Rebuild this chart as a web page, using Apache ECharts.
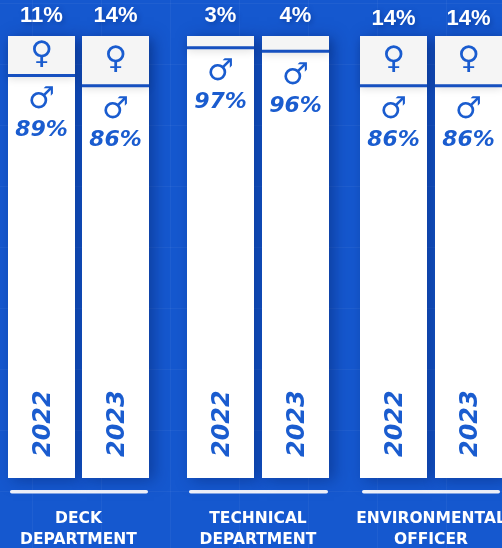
<!DOCTYPE html>
<html><head><meta charset="utf-8">
<script src="https://cdn.jsdelivr.net/npm/echarts@6/dist/echarts.min.js"></script>
<style>
html,body{margin:0;padding:0;width:502px;height:548px;overflow:hidden;background-color:#1558cf;
background-image:linear-gradient(rgba(255,255,255,.045) 1px,transparent 1px),linear-gradient(90deg,rgba(255,255,255,.045) 1px,transparent 1px);
background-size:69px 61px;background-position:32px 3px;}
#c{width:502px;height:548px}
</style></head><body><div id="c"></div>
<script>
const departments = ['DECK\nDEPARTMENT', 'TECHNICAL\nDEPARTMENT', 'ENVIRONMENTAL\nOFFICER'];
const years = ['2022', '2023'];
const femaleShare = [[11, 14], [3, 4], [14, 14]];
const maleShare = [[89, 86], [97, 96], [86, 86]];
const yearPanel = 28; // blank white part of each column that holds the year

const gridLeft = [4.5, 183, 356];
const gridWidth = [148, 150, 150];
const ruleX = [[10, 148], [189, 328], [362, 500]];
const topLabelGap = [9, 9, 6];

const blue = '#1a5ccf';
const face = '"DejaVu Sans"';
const axisMax = 100 + yearPanel;

const grids = [], xAxes = [], yAxes = [], series = [];
departments.forEach((dep, d) => {
  grids.push({left: gridLeft[d], width: gridWidth[d], top: 36, bottom: 70, outerBoundsMode: 'none', containLabel: false});
  xAxes.push({type: 'category', gridIndex: d, data: years,
    axisLine: {show: false}, axisTick: {show: false}, axisLabel: {show: false},
    name: dep, nameLocation: 'middle', nameGap: 30,
    nameTextStyle: {color: '#fff', fontFamily: face, fontWeight: 'bold', fontSize: 15.5, lineHeight: 21}});
  yAxes.push({type: 'value', gridIndex: d, min: 0, max: axisMax, show: false, splitLine: {show: false}});
  const common = {type: 'bar', stack: 'd' + d, xAxisIndex: d, yAxisIndex: d, barWidth: 67};
  series.push({...common, name: 'year', data: years.map(() => yearPanel),
    itemStyle: {color: '#fff'},
    showBackground: true,
    backgroundStyle: {color: '#fff', shadowColor: 'rgba(5,35,110,.5)', shadowBlur: 14, shadowOffsetX: 5, shadowOffsetY: 2},
    label: {show: true, position: 'inside', offset: [6, 2], rotate: 90, color: blue,
      fontFamily: face, fontWeight: 'bold', fontStyle: 'italic', fontSize: 24,
      formatter: p => p.name}});
  series.push({...common, name: 'male', data: maleShare[d],
    itemStyle: {color: '#fff'},
    label: {show: true, position: 'insideTop', distance: 10, color: blue,
      formatter: p => '{s|\u2642}\n{p|' + p.value + '%}',
      rich: {s: {fontFamily: face, fontWeight: 'bold', fontSize: 30, lineHeight: 32, color: blue, align: 'center'},
             p: {fontFamily: face, fontWeight: 'bold', fontStyle: 'italic', fontSize: 22, lineHeight: 28, color: blue, align: 'center'}}}});
  series.push({...common, name: 'female', data: femaleShare[d],
    itemStyle: {color: '#f5f5f5', shadowColor: 'rgba(0,0,0,.12)', shadowBlur: 8, shadowOffsetY: 5},
    label: {show: true, position: 'inside', color: blue, fontFamily: face, fontWeight: 'bold', fontSize: 31,
      formatter: p => p.value > 8 ? '\u2640' : ''}});
  series.push({type: 'scatter', xAxisIndex: d, yAxisIndex: d, z: 5, silent: true,
    symbol: 'rect', symbolSize: [67, 3], symbolOffset: [0, 1.5],
    data: maleShare[d].map((m, i) => [i, yearPanel + m]),
    itemStyle: {color: '#1650c0', opacity: 1}});
  series.push({type: 'scatter', xAxisIndex: d, yAxisIndex: d, z: 5, silent: true,
    symbolSize: 0,
    data: femaleShare[d].map((f, i) => ({value: [i, axisMax], share: f})),
    itemStyle: {opacity: 1},
    label: {show: true, position: 'top', distance: topLabelGap[d], color: '#fff', opacity: 1,
      fontFamily: '"Liberation Sans"', fontWeight: 'bold', fontSize: 22,
      textShadowColor: 'rgba(5,35,110,.4)', textShadowBlur: 5, textShadowOffsetX: 2, textShadowOffsetY: 2,
      formatter: p => p.data.share + '%'}});
});

const chart = echarts.init(document.getElementById('c'), null, {renderer: 'canvas'});
chart.setOption({
  animation: false,
  backgroundColor: 'transparent',
  grid: grids, xAxis: xAxes, yAxis: yAxes, series,
  graphic: ruleX.map(r => ({type: 'rect', shape: {x: r[0], y: 490, width: r[1] - r[0], height: 3.5, r: 2},
    style: {fill: '#f2f4fb'}, silent: true}))
});
</script></body></html>
